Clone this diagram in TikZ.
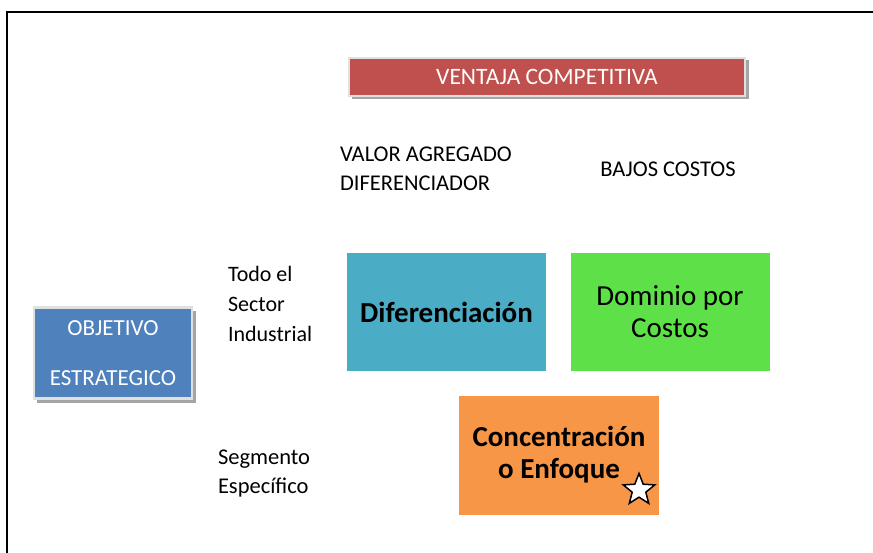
\documentclass[tikz,border=0pt]{standalone}
\usepackage{fontspec}
\setmainfont{Carlito}
\usetikzlibrary{shapes.geometric}
\definecolor{rr}{RGB}{192, 80, 77}
\definecolor{bb}{RGB}{79, 129, 189}
\definecolor{tt}{RGB}{75, 172, 198}
\definecolor{gg}{RGB}{94, 224, 72}
\definecolor{oo}{RGB}{247, 150, 70}
\definecolor{sh}{RGB}{165, 165, 165}
\begin{document}
\begin{tikzpicture}[x=1pt, y=1pt,
  every node/.style={inner sep=0pt, outer sep=0pt},
  shadowbox/.style={rectangle, draw=white!88!black, line width=2.5pt, text=white},
  cell/.style={rectangle, minimum width=199pt, minimum height=118pt, align=center, text=black},
  label/.style={anchor=west, align=left, font=\fontsize{22}{30}\selectfont}]
\useasboundingbox (0, 0) rectangle (873, -553);
\draw [line width=2pt, color=black] (6.5, -553) -- (6.5, -12.5) -- (873, -12.5);
% shadows
\fill [color=sh] (352, -60) rectangle (749, -99);
\fill [color=sh] (37, -311) rectangle (196, -403);
\node (ventaja) [shadowbox, fill=rr, minimum width=396pt, minimum height=38pt, font=\fontsize{23.5}{26}\selectfont] at (547, -77) {VENTAJA COMPETITIVA};
\node (objetivo) [shadowbox, fill=bb, minimum width=158pt, minimum height=91pt, align=center, font=\fontsize{23}{50}\selectfont] at (113, -353) {OBJETIVO\\ESTRATEGICO};
\node (valor) [label, font=\fontsize{22.5}{29}\selectfont] at (340, -169) {VALOR AGREGADO\\DIFERENCIADOR};
\node (bajos) [font=\fontsize{22.5}{26}\selectfont] at (668, -169) {BAJOS COSTOS};
\node (todo) [label] at (228, -304) {Todo el\\Sector\\Industrial};
\node (segmento) [label, font=\fontsize{22.5}{29}\selectfont] at (218, -474) {Segmento\\Espec\'ifico};
\node (dif) [cell, fill=tt, font=\bfseries\fontsize{29}{32}\selectfont] at (446.5, -312) {Diferenciaci\'on};
\node (dom) [cell, fill=gg, font=\fontsize{29}{32}\selectfont] at (670, -312) {Dominio por\\Costos};
\node (con) [cell, fill=oo, minimum width=200pt, minimum height=119pt, font=\bfseries\fontsize{29}{32}\selectfont] at (559, -455) {Concentraci\'on\\o Enfoque};
\node (estrella) [star, star points=5, star point ratio=2.3, minimum size=33pt, fill=white, draw=black, line width=1.5pt] at (639, -490) {};
\end{tikzpicture}
\end{document}
